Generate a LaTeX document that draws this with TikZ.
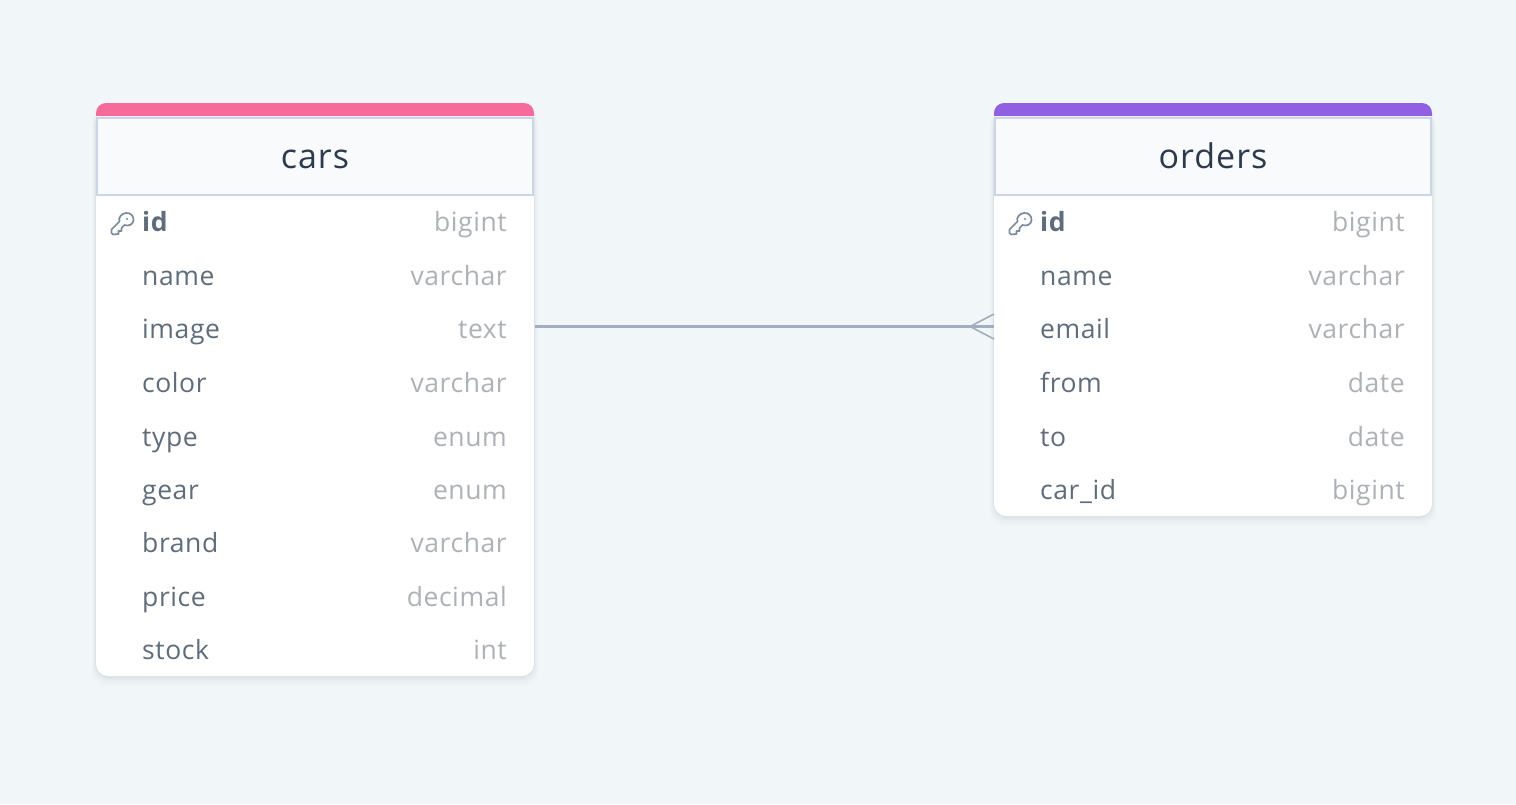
\documentclass[tikz,border=0pt]{standalone}
\usepackage{fontspec}
\setmainfont{Open Sans}
\newfontfamily\bodyfont[LetterSpace=2.2]{Open Sans}
\newfontfamily\headfont[LetterSpace=3]{Open Sans}
\definecolor{bgc}{HTML}{F1F6F9}
\definecolor{pinkc}{HTML}{F76B9A}
\definecolor{purplec}{HTML}{9160E2}
\definecolor{headc}{HTML}{F8FAFC}
\definecolor{bordc}{HTML}{C9D6E6}
\definecolor{titlec}{HTML}{2D3A4E}
\definecolor{namec}{HTML}{5F6C7B}
\definecolor{typec}{HTML}{AEB2B6}
\definecolor{linec}{HTML}{A0AEC0}
\definecolor{keyc}{HTML}{7C8B9C}
\tikzset{
  x=1pt,y=-1pt,
  title/.style={font=\headfont\fontsize{34}{36}\selectfont,text=titlec,anchor=base,inner sep=0pt},
  colname/.style={font=\bodyfont\fontsize{26.5}{30}\selectfont,text=namec,anchor=base west,inner sep=0pt},
  colkey/.style={colname,font=\bodyfont\fontsize{26.5}{30}\selectfont\bfseries},
  coltype/.style={font=\bodyfont\fontsize{26.5}{30}\selectfont,text=typec,anchor=base east,inner sep=0pt},
  relline/.style={draw=linec,line width=3pt},
  crow/.style={draw=linec,line width=1.6pt},
  keystyle/.style={draw=keyc,line width=1.7pt,line cap=round,line join=round},
}
\newcommand{\tablecard}[4]{% x-left, bottom, name, accent
  \foreach \s/\o in {10/.012,7/.016,4/.022,2/.03}{
    \fill[black,opacity=\o,rounded corners=14pt] (#1-\s*.4,110) rectangle (#1+438+\s*.4,#2+\s);
  }
  \fill[white,rounded corners=12pt] (#1,103) rectangle (#1+438,#2);
  \fill[#4] (#1,116) [rounded corners=10pt] -- (#1,103) -- (#1+438,103) [sharp corners] -- (#1+438,116) -- cycle;
  \fill[headc,draw=bordc,line width=2pt] (#1+1,118) rectangle (#1+437,194.5);
}
\newcommand{\keyicon}[2]{% centre x,y
  \begin{scope}[shift={(#1,#2)},keystyle]
    \draw (3.5,-11) .. controls (8,-11.5) and (11.5,-8) .. (11,-3.5)
      .. controls (10.5,.5) and (6,2.5) .. (2,1)
      -- (-1,4) -- (-1,7) -- (-4,7) -- (-4,10) -- (-9.5,10.5) -- (-11,9) -- (-11,5.5)
      -- (-3,-2.5) .. controls (-4.5,-6.5) and (-1,-10.5) .. (3.5,-11) -- cycle;
    \fill[keyc] (4.5,-5) circle (1.2pt);
  \end{scope}
}
\begin{document}
\begin{tikzpicture}
\useasboundingbox (0,0) rectangle (1516,804);
\fill[bgc] (0,0) rectangle (1516,804);
\tablecard{96}{676}{cars}{pinkc}
\tablecard{994}{516}{orders}{purplec}
\node[title] (carsT) at (315,168) {cars};
\node[title] (ordersT) at (1213,168) {orders};
\keyicon{122.5}{224}
\keyicon{1020.5}{224}
\node[colkey] (carsId) at (142,231) {id};
\node[coltype] (carsIdT) at (507,231) {bigint};
\foreach \n/\nm/\ty/\b in {cA/name/varchar/285,cB/image/text/338,cC/color/varchar/392,cD/type/enum/446,cE/gear/enum/499,cF/brand/varchar/552,cG/price/decimal/606,cH/stock/int/659}{
  \node[colname] (\n) at (142,\b) {\nm};
  \node[coltype] (\n T) at (507,\b) {\ty};
}
\node[colkey] (ordId) at (1040,231) {id};
\node[coltype] (ordIdT) at (1405,231) {bigint};
\foreach \n/\nm/\ty/\b in {oA/name/varchar/285,oB/email/varchar/338,oC/from/date/392,oD/to/date/446,oE/car\_id/bigint/499}{
  \node[colname] (\n) at (1040,\b) {\nm};
  \node[coltype] (\n T) at (1405,\b) {\ty};
}
\coordinate (relA) at (535,326.5);
\coordinate (relB) at (994,326.5);
\coordinate (crowTip) at (970,326.5);
\coordinate (crowUp) at (994,314);
\coordinate (crowDn) at (994,339);
\draw[relline] (relA) -- (relB);
\draw[crow] (crowUp) -- (crowTip) -- (crowDn);
\end{tikzpicture}
\end{document}
